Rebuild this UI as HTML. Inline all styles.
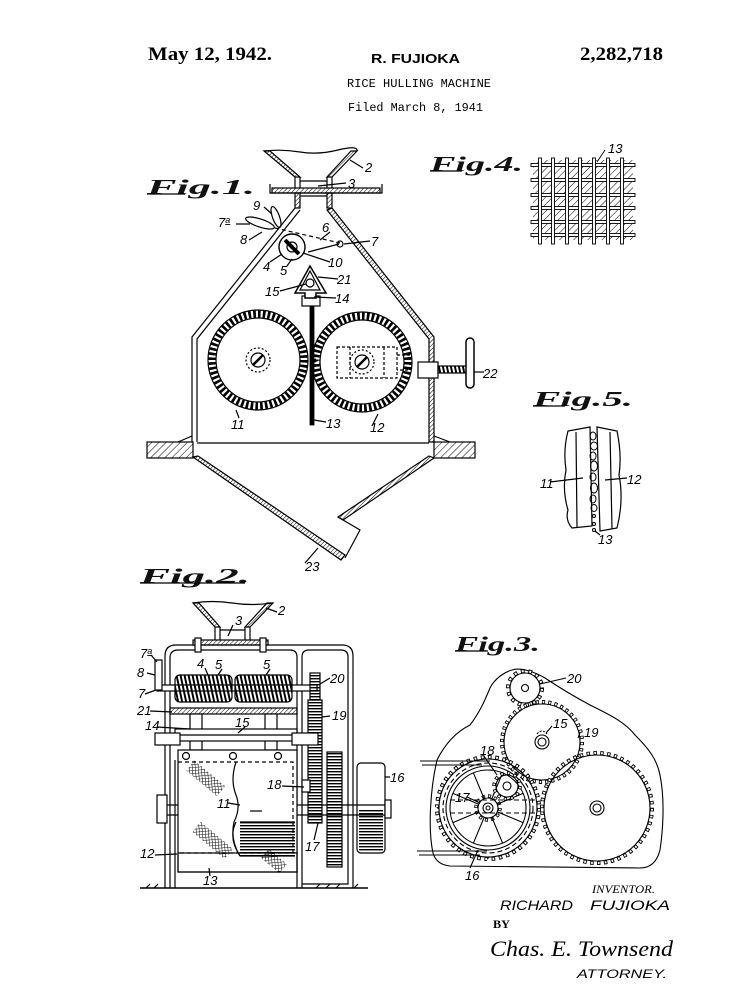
<!DOCTYPE html>
<html><head><meta charset="utf-8"><style>
html,body{margin:0;padding:0;background:#fff}
svg{display:block}
.lb{font-family:"Liberation Sans",sans-serif;font-style:italic;font-size:13px;fill:#000}
.fg{font-family:"Liberation Serif",serif;font-style:italic;font-weight:bold;font-size:21px;fill:#111}
</style></head><body>
<svg width="755" height="997" viewBox="0 0 755 997" xmlns="http://www.w3.org/2000/svg">
<defs>
<pattern id="h" width="3" height="3" patternUnits="userSpaceOnUse" patternTransform="rotate(45)"><line x1="0" y1="0" x2="0" y2="3" stroke="#000" stroke-width="1"/></pattern>
<pattern id="h2" width="5" height="5" patternUnits="userSpaceOnUse" patternTransform="rotate(45)"><line x1="0" y1="0" x2="0" y2="5" stroke="#000" stroke-width="1"/></pattern>
<pattern id="xh" width="3" height="3" patternUnits="userSpaceOnUse" patternTransform="rotate(45)"><path d="M0,0V3M0,0H3" stroke="#000" stroke-width="0.9" fill="none"/></pattern>
<pattern id="hz" width="6" height="3" patternUnits="userSpaceOnUse"><rect width="6" height="1.4" fill="#000"/></pattern>
<pattern id="thr" width="4" height="10" patternUnits="userSpaceOnUse" patternTransform="skewX(12)"><rect width="2" height="10" fill="#000"/></pattern>
</defs>
<rect width="755" height="997" fill="#fff"/>

<!-- HEADER -->
<text x="148" y="60" font-family="Liberation Serif,serif" font-weight="bold" font-size="19" textLength="124" lengthAdjust="spacingAndGlyphs">May 12, 1942.</text>
<text x="371" y="63" font-family="Liberation Sans,sans-serif" font-weight="bold" font-size="12.5" textLength="89" lengthAdjust="spacingAndGlyphs">R. FUJIOKA</text>
<text x="580" y="60" font-family="Liberation Serif,serif" font-weight="bold" font-size="19" textLength="83" lengthAdjust="spacingAndGlyphs">2,282,718</text>
<text x="347" y="87" font-family="Liberation Mono,monospace" font-size="11.5" textLength="144" lengthAdjust="spacingAndGlyphs">RICE HULLING MACHINE</text>
<text x="348" y="111" font-family="Liberation Mono,monospace" font-size="11.5" textLength="135" lengthAdjust="spacingAndGlyphs">Filed March 8, 1941</text>

<!-- FIG LABELS -->
<text class="fg" x="147" y="194" textLength="108" lengthAdjust="spacingAndGlyphs">Fig.1.</text>
<line x1="147" y1="194" x2="185" y2="194" stroke="#000" stroke-width="1.3"/>
<text class="fg" x="430" y="171" textLength="93" lengthAdjust="spacingAndGlyphs">Fig.4.</text>
<line x1="430" y1="171" x2="462" y2="171" stroke="#000" stroke-width="1.3"/>
<text class="fg" x="533" y="406" textLength="100" lengthAdjust="spacingAndGlyphs">Fig.5.</text>
<line x1="533" y1="406" x2="565" y2="406" stroke="#000" stroke-width="1.3"/>
<text class="fg" x="140" y="583" textLength="110" lengthAdjust="spacingAndGlyphs">Fig.2.</text>
<line x1="140" y1="583" x2="245" y2="583" stroke="#000" stroke-width="1.3"/>
<text class="fg" x="455" y="651" textLength="85" lengthAdjust="spacingAndGlyphs">Fig.3.</text>
<line x1="455" y1="651" x2="488" y2="651" stroke="#000" stroke-width="1.3"/>

<!-- ================= FIG 1 ================= -->
<g fill="none" stroke="#000" stroke-width="1.2">
<path d="M264,151 Q282,149 300,152 T338,150 T357,151"/>
<polygon points="264,151 270,151 300,177 295,177" fill="url(#h)"/>
<polygon points="351,151 357,151 332,177 327,177" fill="url(#h)"/>
<path d="M295,177 V188 M300,177 V188 M327,177 V188 M332,177 V188 M300,181 H327"/>
<path d="M270,184 V193 H382 V184"/>
<rect x="272" y="188" width="108" height="5" fill="url(#h)"/>
<rect x="295" y="193" width="5" height="15" fill="url(#h)"/>
<rect x="327" y="193" width="5" height="15" fill="url(#h)"/>
<path d="M300,196 H327"/>
<!-- body -->
<path d="M295,208 L192,337 L192,442"/>
<path d="M300,210 L197,339 L197,442"/>
<polygon points="332,208 434,337 434,442 429,442 429,339 327,210" fill="url(#h)"/>
<path d="M197,443 H429"/>
<rect x="147" y="442" width="46" height="16" fill="url(#h2)"/>
<rect x="434" y="442" width="41" height="16" fill="url(#h2)"/>
<path d="M178,442 L192,436 M434,436 L450,442"/>
<!-- lower hopper -->
<polygon points="193,457 198,456 345,555 341,560" fill="url(#h)"/>
<polygon points="429,456 434,458 343,520 338,517" fill="url(#h)"/>
<path d="M338,517 L360,530 L345,558"/>
<!-- rollers -->
<circle cx="258" cy="360" r="50"/>
<circle cx="258" cy="360" r="42"/>
<circle cx="258" cy="360" r="46" stroke-width="7" pathLength="60" stroke-dasharray="0.55 0.45"/>
<circle cx="362" cy="362" r="50"/>
<circle cx="362" cy="362" r="42"/>
<circle cx="362" cy="362" r="46" stroke-width="7" pathLength="60" stroke-dasharray="0.55 0.45"/>
<circle cx="258" cy="360" r="7"/>
<circle cx="258" cy="360" r="12" stroke-dasharray="2 2"/>
<line x1="253" y1="365" x2="263" y2="355" stroke-width="2.5"/>
<circle cx="362" cy="362" r="7"/>
<circle cx="362" cy="362" r="12" stroke-dasharray="2 2"/>
<line x1="357" y1="367" x2="367" y2="357" stroke-width="2.5"/>
<rect x="337" y="347" width="60" height="31" stroke-dasharray="3 2"/>
<path d="M350,347 V378 M384,347 V378 M397,355 H410 V370 H397" stroke-dasharray="3 2"/>
<!-- screw 22 -->
<rect x="418" y="362" width="20" height="16" fill="#fff"/>
<rect x="438" y="366" width="30" height="7" fill="url(#thr)"/>
<rect x="466" y="338" width="8" height="50" rx="4" fill="#fff" stroke-width="1.5"/>
<path d="M474,372 H484"/>
<!-- plate 13 -->
<rect x="310" y="303" width="4" height="122" fill="#000" stroke-width="0.8"/>
<rect x="302" y="296" width="18" height="10" fill="#fff"/>
<!-- deflector 21 -->
<path d="M310,266 L295,293 L305,293 L305,298 L316,298 L316,293 L326,293 Z" fill="#fff" stroke-width="1.5"/>
<path d="M310,271 L300,290 L320,290 Z"/>
<circle cx="310" cy="283" r="4" fill="#fff"/>
<!-- feed roller 4 -->
<circle cx="292" cy="247" r="13" fill="#fff" stroke-width="1.4"/>
<line x1="285" y1="240" x2="299" y2="254" stroke-width="4"/>
<circle cx="292" cy="247" r="5"/>
<!-- levers -->
<ellipse cx="260" cy="223" rx="15" ry="4" transform="rotate(18 260 223)"/>
<ellipse cx="276" cy="217" rx="11" ry="3.5" transform="rotate(70 276 217)"/>
<path d="M275,228 L340,243" stroke-dasharray="4 3"/>
<path d="M308,252 L339,244"/>
<circle cx="340" cy="244" r="3"/>
<!-- leaders -->
<path d="M350,160 L363,168 M318,186 L346,183 M264,207 L272,214 M236,224 L250,224 M249,240 L262,232 M330,232 L320,240 M370,241 L344,244 M270,262 L282,254 M287,266 L292,259 M330,262 L303,253 M338,279 L318,277 M280,291 L306,284 M336,298 L314,297 M239,418 L236,410 M326,422 L314,420 M372,426 L378,414 M305,563 L318,548"/>
</g>
<g class="lb">
<text x="365" y="172">2</text>
<text x="348" y="188">3</text>
<text x="253" y="210">9</text>
<text x="218" y="227">7<tspan font-size="9" dy="-4" text-decoration="underline">a</tspan></text>
<text x="240" y="244">8</text>
<text x="322" y="232">6</text>
<text x="371" y="246">7</text>
<text x="263" y="271">4</text>
<text x="280" y="275">5</text>
<text x="328" y="267">10</text>
<text x="337" y="284">21</text>
<text x="265" y="296">15</text>
<text x="335" y="303">14</text>
<text x="231" y="429">11</text>
<text x="326" y="428">13</text>
<text x="370" y="432">12</text>
<text x="483" y="378">22</text>
<text x="305" y="571">23</text>
</g>

<!-- ================= FIG 4 ================= -->
<g fill="#fff" stroke="#000" stroke-width="0.9">
<rect x="533" y="160" width="100" height="80" fill="url(#h2)" stroke="none"/>
<rect x="531" y="163.5" width="104" height="3"/>
<rect x="531" y="178.5" width="104" height="3"/>
<rect x="531" y="193.5" width="104" height="3"/>
<rect x="531" y="206.5" width="104" height="3"/>
<rect x="531" y="220.5" width="104" height="3"/>
<rect x="531" y="233.5" width="104" height="3"/>
<rect x="538.5" y="158" width="3" height="86"/>
<rect x="551.5" y="158" width="3" height="86"/>
<rect x="565.5" y="158" width="3" height="86"/>
<rect x="578.5" y="158" width="3" height="86"/>
<rect x="592.5" y="158" width="3" height="86"/>
<rect x="606.5" y="158" width="3" height="86"/>
<rect x="620.5" y="158" width="3" height="86"/>
<path d="M605,150 L597,162" fill="none"/>
</g>
<text class="lb" x="608" y="153">13</text>

<!-- ================= FIG 5 ================= -->
<g fill="none" stroke="#000" stroke-width="1.2">
<path d="M590,427 L568,431 Q563,450 566,470 Q562,490 568,510 Q565,520 572,528 L592,526 Z" fill="#fff"/>
<path d="M576,432 L577,527"/>
<path d="M597,427 L617,431 Q622,455 619,475 Q624,500 617,528 L600,531 Z" fill="#fff"/>
<path d="M610,432 L612,529"/>
<g stroke-width="1">
<ellipse cx="593" cy="436" rx="3" ry="4"/><ellipse cx="594" cy="446" rx="3.5" ry="4"/>
<ellipse cx="593" cy="456" rx="3" ry="4"/><ellipse cx="594" cy="466" rx="3.5" ry="5"/>
<ellipse cx="593" cy="477" rx="3" ry="4"/><ellipse cx="594" cy="488" rx="3.5" ry="5"/>
<ellipse cx="593" cy="499" rx="3" ry="4"/><ellipse cx="594" cy="508" rx="3" ry="3.5"/>
<circle cx="594" cy="516" r="1.5"/><circle cx="594" cy="524" r="1.5"/><circle cx="594" cy="530" r="1.5"/>
</g>
<path d="M550,482 L583,478 M605,480 L627,478 M595,531 L600,535"/>
</g>
<g class="lb"><text x="540" y="488">11</text><text x="627" y="484">12</text><text x="598" y="544">13</text></g>

<!-- ================= FIG 2 ================= -->
<g fill="none" stroke="#000" stroke-width="1.2">
<path d="M193,603 Q212,600 232,603 T273,603"/>
<polygon points="193,603 199,603 220,627 215,627" fill="url(#h)"/>
<polygon points="267,603 273,603 250,627 245,627" fill="url(#h)"/>
<path d="M215,627 V640 M220,627 V640 M245,627 V640 M250,627 V640 M220,630 H245"/>
<path d="M165,888 V656 Q165,645 176,645 H342 Q353,645 353,656 V888"/>
<path d="M170,888 V658 Q170,650 178,650 H290 Q297,650 297,657 V888"/>
<path d="M302,888 V657 Q302,650 309,650 H341 Q348,650 348,657 V884 H302"/>
<path d="M175,760 V888"/>
<rect x="193" y="640" width="75" height="5" fill="url(#h)"/>
<rect x="195" y="638" width="6" height="14" fill="#fff"/><rect x="260" y="638" width="6" height="14" fill="#fff"/>
<path d="M140,888 H368" stroke-width="1.5"/>
<path d="M150,884 L146,888 M158,884 L154,888 M320,884 L316,888 M330,884 L326,888 M340,884 L336,888 M358,884 L354,888"/>
<!-- worm shaft -->
<rect x="157" y="685" width="160" height="6" fill="#fff"/>
<rect x="175" y="675" width="57" height="27" rx="5" fill="url(#thr)"/>
<rect x="235" y="675" width="57" height="27" rx="5" fill="url(#thr)"/>
<rect x="155" y="660" width="7" height="30" fill="#fff"/>
<!-- edge gears -->
<rect x="310" y="673" width="10" height="27" fill="url(#hz)"/>
<rect x="308" y="700" width="14" height="123" fill="url(#hz)"/>
<rect x="327" y="752" width="15" height="115" fill="url(#hz)"/>
<rect x="357" y="763" width="28" height="90" rx="4" fill="#fff"/>
<rect x="359" y="810" width="24" height="41" fill="url(#hz)" stroke="none"/>
<!-- plate 21, posts 14, shaft 15 -->
<rect x="170" y="708" width="127" height="6" fill="url(#h)"/>
<rect x="190" y="714" width="12" height="36" fill="#fff"/>
<rect x="265" y="714" width="12" height="36" fill="#fff"/>
<rect x="175" y="729" width="122" height="12" fill="#fff"/>
<path d="M175,735 H297"/>
<rect x="155" y="733" width="25" height="12" fill="#fff"/>
<rect x="292" y="733" width="26" height="12" fill="#fff"/>
<!-- main shaft -->
<path d="M157,805 H178 M157,815 H178 M297,805 H390 M297,815 H390"/>
<rect x="157" y="795" width="10" height="28" fill="#fff"/>
<rect x="385" y="800" width="6" height="18" fill="#fff"/>
<!-- roller box -->
<rect x="178" y="750" width="119" height="122" fill="#fff"/>
<circle cx="186" cy="756" r="3.5"/><circle cx="233" cy="756" r="3.5"/><circle cx="278" cy="756" r="3.5"/>
<path d="M178,762 H293 V853 H178" stroke-dasharray="4 3"/>
<path d="M236,762 Q230,780 236,795 Q241,808 234,822 Q230,840 240,856"/>
<rect x="240" y="822" width="55" height="34" fill="url(#hz)" stroke="none"/>
<path d="M240,822 H295 M240,856 H295 M236,822 Q228,838 240,856"/>
<path d="M250,811 H262"/>
<rect x="178" y="853" width="119" height="19"/>
<rect x="186" y="772" width="40" height="13" transform="rotate(40 206 778)" fill="url(#xh)" stroke="none"/>
<rect x="192" y="834" width="42" height="13" transform="rotate(40 213 840)" fill="url(#xh)" stroke="none"/>
<rect x="262" y="855" width="24" height="12" transform="rotate(40 274 861)" fill="url(#xh)" stroke="none"/>
<rect x="302" y="780" width="8" height="12" fill="#fff"/>
<!-- leaders -->
<path d="M266,608 L277,612 M233,625 L228,636 M151,655 L157,662 M147,673 L155,675 M145,694 L156,690 M205,668 L208,675 M222,669 L218,675 M270,669 L266,675 M330,678 L320,684 M150,711 L172,712 M330,716 L322,717 M157,727 L190,729 M245,727 L238,733 M390,777 L385,777 M282,786 L304,787 M228,803 L240,805 M314,840 L318,823 M155,855 L177,854 M210,876 L209,868"/>
</g>
<g class="lb">
<text x="278" y="615">2</text>
<text x="235" y="625">3</text>
<text x="140" y="658">7<tspan font-size="9" dy="-4" text-decoration="underline">a</tspan></text>
<text x="137" y="677">8</text>
<text x="197" y="668">4</text>
<text x="215" y="669">5</text>
<text x="263" y="669">5</text>
<text x="138" y="698">7</text>
<text x="330" y="683">20</text>
<text x="137" y="715">21</text>
<text x="332" y="720">19</text>
<text x="145" y="730">14</text>
<text x="235" y="727">15</text>
<text x="390" y="782">16</text>
<text x="267" y="789">18</text>
<text x="217" y="808">11</text>
<text x="305" y="851">17</text>
<text x="140" y="858">12</text>
<text x="203" y="885">13</text>
</g>

<!-- ================= FIG 3 ================= -->
<g fill="none" stroke="#000" stroke-width="1.1">
<path d="M433,853 C428,830 430,790 437,760 C447,740 460,730 470,725 C480,712 485,700 490,688 C495,678 505,672 512,670 C520,667 535,672 545,678 C560,688 575,697 590,705 C610,715 625,722 635,735 C650,750 657,760 660,775 C665,800 663,830 660,850 C657,862 650,868 640,868 L450,866 C440,865 435,860 433,853 Z"/>
<g transform="translate(525,688)">
<circle r="17" stroke-width="4" pathLength="28" stroke-dasharray="1 1"/>
<circle r="17" stroke="#fff" stroke-width="2.2" pathLength="28" stroke-dasharray="0.5 1.5" stroke-dashoffset="-0.25"/>
<circle r="15"/><circle r="3.5"/>
</g>
<g transform="translate(542,742)">
<circle r="40" stroke-width="4" pathLength="80" stroke-dasharray="1 1"/>
<circle r="40" stroke="#fff" stroke-width="2.2" pathLength="80" stroke-dasharray="0.5 1.5" stroke-dashoffset="-0.25"/>
<circle r="38"/><circle r="7"/><circle r="4"/>
<path d="M-5,-8 Q0,-14 5,-8" stroke-dasharray="2 1.5"/>
</g>
<g transform="translate(597,808)">
<circle r="55" stroke-width="4" pathLength="100" stroke-dasharray="1 1"/>
<circle r="55" stroke="#fff" stroke-width="2.2" pathLength="100" stroke-dasharray="0.5 1.5" stroke-dashoffset="-0.25"/>
<circle r="53"/><circle r="7"/><circle r="4"/>
</g>
<g transform="translate(488,808)">
<circle r="51" stroke-width="4" pathLength="88" stroke-dasharray="1 1"/>
<circle r="51" stroke="#fff" stroke-width="2.2" pathLength="88" stroke-dasharray="0.5 1.5" stroke-dashoffset="-0.25"/>
<circle r="49"/><circle r="45" stroke-dasharray="5 3"/><circle r="42"/><circle r="38"/>
<circle r="12" stroke-width="3.5" pathLength="24" stroke-dasharray="1 1"/>
<circle r="12" stroke="#fff" stroke-width="1.8" pathLength="24" stroke-dasharray="0.5 1.5" stroke-dashoffset="-0.25"/>
<circle r="10" fill="#fff"/><circle r="5"/><circle r="2"/>
</g>
<path d="M497.2,811.8 L523.1,822.6 M491.8,817.2 L502.6,843.1 M484.2,817.2 L473.4,843.1 M478.8,811.8 L452.9,822.6 M478.8,804.2 L452.9,793.4 M484.2,798.8 L473.4,772.9 M491.8,798.8 L502.6,772.9 M497.2,804.2 L523.1,793.4"/>
<path d="M450,800 H537 M450,813 H537" stroke-dasharray="5 3"/>
<g transform="translate(507,786)">
<circle r="13" stroke-width="3.5" pathLength="24" stroke-dasharray="1 1"/>
<circle r="13" stroke="#fff" stroke-width="1.8" pathLength="24" stroke-dasharray="0.5 1.5" stroke-dashoffset="-0.25"/>
<circle r="11"/><circle r="4"/>
</g>
<path d="M420,761 H490 M422,765 H482 M417,851 H487 M419,855 H480"/>
<path d="M566,678 L540,684 M552,726 L546,733 M580,733 L578,738 M484,756 L497,775 M467,797 L480,803 M470,868 L478,850"/>
</g>
<g class="lb">
<text x="567" y="683">20</text>
<text x="553" y="728">15</text>
<text x="584" y="737">19</text>
<text x="480" y="755">18</text>
<text x="455" y="802">17</text>
<text x="465" y="880">16</text>
</g>

<!-- INVENTOR BLOCK -->
<text x="592" y="893" font-family="Liberation Serif,serif" font-style="italic" font-size="12" textLength="63" lengthAdjust="spacingAndGlyphs">INVENTOR.</text>
<text x="500" y="910" font-family="Liberation Sans,sans-serif" font-style="italic" font-size="14" textLength="73" lengthAdjust="spacingAndGlyphs">RICHARD</text>
<text x="590" y="910" font-family="Liberation Sans,sans-serif" font-style="italic" font-size="14" textLength="80" lengthAdjust="spacingAndGlyphs">FUJIOKA</text>
<text x="493" y="928" font-family="Liberation Serif,serif" font-weight="bold" font-size="12" textLength="17" lengthAdjust="spacingAndGlyphs">BY</text>
<text x="490" y="956" font-family="Liberation Serif,serif" font-style="italic" font-size="22" textLength="183" lengthAdjust="spacingAndGlyphs">Chas. E. Townsend</text>
<text x="577" y="978" font-family="Liberation Sans,sans-serif" font-style="italic" font-size="12" textLength="90" lengthAdjust="spacingAndGlyphs">ATTORNEY.</text>
</svg>
</body></html>
